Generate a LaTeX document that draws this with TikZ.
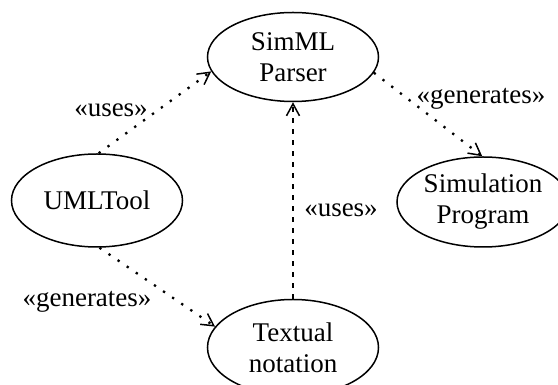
\documentclass[tikz,border=0pt]{standalone}
\usepackage{fontspec}
\setmainfont{Liberation Serif}
\usetikzlibrary{shapes.geometric,arrows.meta}
\begin{document}
\begin{tikzpicture}[x=1pt,y=1pt,
  usecase/.style={draw,ellipse,line width=1.5pt,inner sep=0pt,minimum width=171pt,minimum height=89pt,align=center,font=\fontsize{27}{31}\selectfont},
  lbl/.style={anchor=base,inner sep=0pt,font=\fontsize{27}{31}\selectfont},
  dep/.style={line width=2.3pt,dash pattern=on 2.3pt off 8.7pt,-{Straight Barb[length=12pt,width=13pt,line width=1.5pt]}},
  depv/.style={line width=2pt,dash pattern=on 5pt off 6pt,-{Straight Barb[length=12pt,width=13pt,line width=1.5pt]}}]
\useasboundingbox (0,0) rectangle (558,385);
\node[usecase] (parser) at (293,328) {SimML\\Parser};
\node[usecase,minimum height=93pt] (uml) at (97,184.5) {UMLTool};
\node[usecase,minimum width=172pt,minimum height=90pt] (sim) at (483,183) {Simulation\\Program};
\node[usecase,minimum height=96pt] (text) at (293,37.5) {Textual\\notation};
\draw[dep] (uml.88) -- (parser.190);
\draw[dep] (parser.-11) -- (sim.91);
\draw[dep] (uml.-87) -- (text.165);
\draw[depv] (text.north) -- (parser.south);
\node[lbl] (l1) at (111,268.3) {«uses»};
\node[lbl] (l2) at (481,281.5) {«generates»};
\node[lbl] (l3) at (341,168.3) {«uses»};
\node[lbl] (l4) at (87,78.3) {«generates»};
\end{tikzpicture}
\end{document}
